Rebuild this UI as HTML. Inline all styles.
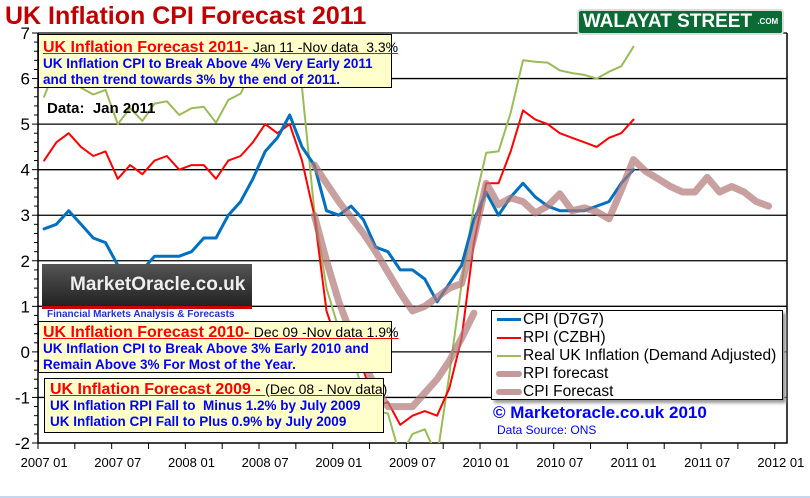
<!DOCTYPE html>
<html><head><meta charset="utf-8"><style>
body{margin:0;background:#fff;}
#c{position:relative;width:810px;height:498px;overflow:hidden;font-family:"Liberation Sans",Arial,sans-serif;}
.box{position:absolute;background:#ffffcc;border:1px solid #000;box-sizing:border-box;}
.h{color:#f00;font-weight:bold;font-size:16px;line-height:17px;text-decoration:underline;white-space:nowrap;}
.h span{color:#000;font-weight:normal;font-size:14px;}
.b{color:#00f;font-weight:bold;font-size:13.5px;white-space:nowrap;line-height:16px;}
</style></head><body>
<div id="c">
<svg id="s" width="810" height="498" style="position:absolute;left:0;top:0"></svg>
<div style="position:absolute;left:5px;top:2px;color:#c00000;font-weight:bold;font-size:25px;">UK Inflation CPI Forecast 2011</div>
<div style="position:absolute;left:577px;top:9px;width:207px;height:26px;background:#0b6b35;border:2px solid #ddd;border-radius:4px;box-sizing:border-box;color:#fff;font-weight:bold;font-size:19px;line-height:22px;text-align:center;">WALAYAT STREET <span style="font-size:8px;vertical-align:top">.COM</span></div>
<div class="box" style="left:38px;top:34px;width:354px;height:54px;padding:4px 0 0 4px;">
<div class="h">UK Inflation Forecast 2011- <span>Jan 11 -Nov data &nbsp;3.3%</span></div>
<div class="b">UK Inflation CPI to Break Above 4% Very Early 2011<br>and then trend towards 3% by the end of 2011.</div></div>
<div style="position:absolute;left:47px;top:100px;font-weight:bold;font-size:15px;">Data:&nbsp; Jan 2011</div>
<div style="position:absolute;left:42px;top:264px;width:210px;height:45px;background:linear-gradient(#555,#222);border-bottom:3px solid #c00;box-sizing:border-box;color:#eee;font-weight:bold;font-size:19px;line-height:42px;padding-left:28px;">MarketOracle.co.uk</div>
<div style="position:absolute;left:47px;top:309px;width:200px;color:#2233cc;font-weight:bold;font-size:10px;background:#fff;">Financial Markets Analysis &amp; Forecasts</div>
<div class="box" style="left:38px;top:321px;width:354px;height:52px;padding:2px 0 0 4px;">
<div class="h">UK Inflation Forecast 2010- <span>Dec 09 -Nov data 1.9%</span></div>
<div class="b">UK Inflation CPI to Break Above 3% Early 2010 and<br>Remain Above 3% For Most of the Year.</div></div>
<div class="box" style="left:44px;top:378px;width:340px;height:55px;padding:2px 0 0 5px;">
<div class="h">UK Inflation Forecast 2009 - <span>(Dec 08 - Nov data)</span></div>
<div class="b">UK Inflation RPI Fall to &nbsp;Minus 1.2% by July 2009<br>UK Inflation CPI Fall to Plus 0.9% by July 2009</div></div>
<div style="position:absolute;left:491px;top:310px;width:292px;height:90px;border:1px solid #000;background:#fff;box-shadow:3px 3px 3px #999;box-sizing:border-box;font-size:15.5px;line-height:18px;padding-top:0px;">
<div><span style="display:inline-block;width:24px;height:3px;background:#0070c0;vertical-align:middle;margin:0 2px 0 5px"></span>CPI (D7G7)</div>
<div><span style="display:inline-block;width:24px;height:2px;background:#f00;vertical-align:middle;margin:0 2px 0 5px"></span>RPI (CZBH)</div>
<div><span style="display:inline-block;width:24px;height:2px;background:#9bbb59;vertical-align:middle;margin:0 2px 0 5px"></span>Real UK Inflation (Demand Adjusted)</div>
<div><span style="display:inline-block;width:26px;height:6px;border-radius:3px;background:#c49a9a;vertical-align:middle;margin:0 1px 0 4px"></span>RPI forecast</div>
<div><span style="display:inline-block;width:26px;height:6px;border-radius:3px;background:#c49a9a;vertical-align:middle;margin:0 1px 0 4px"></span>CPI Forecast</div>
</div>
<div style="position:absolute;left:493px;top:403px;color:#00f;font-weight:bold;font-size:17px;">© Marketoracle.co.uk 2010</div>
<div style="position:absolute;left:497px;top:423px;color:#00f;font-size:12px;">Data Source: ONS</div>
<div style="position:absolute;left:0;top:496px;width:810px;height:2px;background:#c6d6ee"></div>
</div>
<script>
const xLabels=["2007 01","2007 07","2008 01","2008 07","2009 01","2009 07","2010 01","2010 07","2011 01","2011 07","2012 01"];
const yTicks=[-2,-1,0,1,2,3,4,5,6,7];
const cpi=[2.7,2.8,3.1,2.8,2.5,2.4,1.9,1.8,1.8,2.1,2.1,2.1,2.2,2.5,2.5,3.0,3.3,3.8,4.4,4.7,5.2,4.5,4.1,3.1,3.0,3.2,2.9,2.3,2.2,1.8,1.8,1.6,1.1,1.5,1.9,2.9,3.5,3.0,3.4,3.7,3.4,3.2,3.1,3.1,3.1,3.2,3.3,3.7,4.0];
const rpi=[4.2,4.6,4.8,4.5,4.3,4.4,3.8,4.1,3.9,4.2,4.3,4.0,4.1,4.1,3.8,4.2,4.3,4.6,5.0,4.8,5.0,4.2,3.0,0.9,0.1,0.0,-0.4,-1.2,-1.1,-1.6,-1.4,-1.3,-1.4,-0.8,0.3,2.4,3.7,3.7,4.4,5.3,5.1,5.0,4.8,4.7,4.6,4.5,4.7,4.8,5.1];
const realInf=[5.6,6.3,6.4,5.8,5.65,5.75,5.0,5.35,5.07,5.45,5.5,5.2,5.35,5.38,5.03,5.53,5.67,6.2,6.5,6.8,6.6,5.8,3.1,1.4,0.5,0.0,-0.9,-1.3,-1.35,-2.3,-1.8,-1.7,-2.3,-0.5,1.5,3.2,4.37,4.4,5.25,6.4,6.37,6.35,6.18,6.12,6.08,6.0,6.15,6.27,6.7];
const rpiFcStart=22;
const rpiFc=[3.0,2.0,1.1,0.4,-0.2,-0.8,-1.2,-1.2,-1.2,-0.9,-0.6,-0.2,0.3,0.85];
const cpiFcStart=22;
const cpiFc=[4.1,3.7,3.3,2.95,2.6,2.2,1.75,1.3,0.9,1.0,1.2,1.4,1.5,2.5,3.7,3.23,3.38,3.3,3.05,3.2,3.47,3.1,3.16,3.08,2.92,3.55,4.22,3.96,3.8,3.63,3.51,3.51,3.83,3.51,3.63,3.51,3.3,3.2];
const NS="http://www.w3.org/2000/svg";
const svg=document.getElementById('s');
const L=38,R=787,T=33,B=443,YMIN=-2,YMAX=7,NCAT=61;
const xs=i=>L+(R-L)/NCAT*(i+0.5);
const ys=v=>B-(v-YMIN)/(YMAX-YMIN)*(B-T);
function mk(t,a){const e=document.createElementNS(NS,t);for(const k in a)e.setAttribute(k,a[k]);svg.appendChild(e);return e;}
const defs=mk('defs',{});
const cp=document.createElementNS(NS,'clipPath');cp.setAttribute('id','pc');
const cr=document.createElementNS(NS,'rect');cr.setAttribute('x',L);cr.setAttribute('y',T);cr.setAttribute('width',R-L);cr.setAttribute('height',B-T);
cp.appendChild(cr);defs.appendChild(cp);
yTicks.forEach(v=>{
 if(v>YMIN){const g=mk('line',{x1:L,x2:R,y1:ys(v),y2:ys(v),stroke:'#000','stroke-width':1.3});
 
 }
 const t=mk('text',{x:30,y:ys(v)+6,'text-anchor':'end','font-size':17,'font-family':'Liberation Sans, sans-serif'});
 t.textContent=v;
 
 
});
for(let v=YMIN;v<=YMAX+0.001;v+=0.2){mk('line',{x1:L-(Math.abs(v-Math.round(v))<0.01?6:4),x2:L,y1:ys(v),y2:ys(v),stroke:'#000','stroke-width':1});}
const ax=mk('path',{d:`M${L},${T}V${B}H${R}V${T}`,fill:'none',stroke:'#000','stroke-width':1.5});


for(let i=0;i<=NCAT;i+=3){const x=L+(R-L)/NCAT*i;mk('line',{x1:x,x2:x,y1:B,y2:B+6,stroke:'#000'});}
xLabels.forEach((l,k)=>{const t=mk('text',{x:xs(k*6),y:467,'text-anchor':'middle','font-size':13,'font-family':'Liberation Sans, sans-serif'});
 t.textContent=l;
 
 });
function line(arr,start,col,w,name,op){
 const d=arr.map((v,i)=>(i?'L':'M')+xs(start+i).toFixed(1)+','+ys(v).toFixed(1)).join('');
 const p=mk('path',{d:d,fill:'none',stroke:col,'stroke-width':w,'stroke-linejoin':'round','stroke-linecap':'round','clip-path':'url(#pc)',opacity:op||1});
 
 
}
line(realInf,0,'#9bbb59',2,'real-inflation-line');
line(rpi,0,'#ff0000',2,'rpi-line');
line(cpi,0,'#0070c0',3,'cpi-line');
line(rpiFc,rpiFcStart,'#b07878',7,'rpi-forecast-line',0.7);
line(cpiFc,cpiFcStart,'#b07878',7,'cpi-forecast-line',0.7);
</script>
</body></html>
